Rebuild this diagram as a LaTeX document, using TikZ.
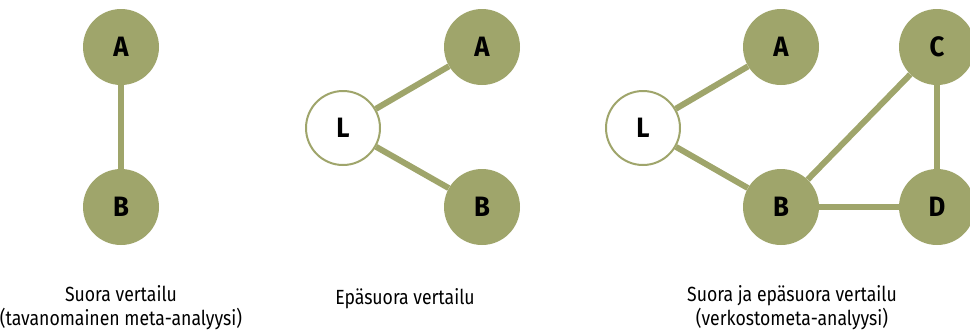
\documentclass[tikz,border=0pt]{standalone}
\usepackage{fontspec}
\setmainfont{Fira Sans}[FakeStretch=0.86]
\newfontfamily\lblfont{Fira Sans}[FakeStretch=0.92]
\definecolor{olive}{HTML}{9FA56B}
\begin{document}
\begin{tikzpicture}[x=1pt,y=-1pt,
  full/.style={circle,fill=olive,minimum size=76pt,inner sep=0pt,font=\lblfont\fontsize{28}{30}\selectfont\bfseries},
  hollow/.style={circle,draw=olive,line width=2pt,fill=white,minimum size=74pt,inner sep=0pt,font=\lblfont\fontsize{28}{30}\selectfont\bfseries},
  edge/.style={draw=olive,line width=6pt},
  captext/.style={align=center,font=\fontsize{20.5}{24}\selectfont}]
\useasboundingbox (0,0) rectangle (970,333);
\begin{scope}
\clip (0,0) rectangle (970,333);
% panel 1
\node[full] (a1) at (121,47) {A};
\node[full] (b1) at (121,207) {B};
\path[edge] (a1) -- (b1);
\node[captext] (t1) at (121,308) {Suora vertailu\\(tavanomainen meta-analyysi)};
% panel 2
\node[hollow] (l2) at (343,128) {L};
\node[full] (a2) at (482,47) {A};
\node[full] (b2) at (482,207) {B};
\path[edge] (l2) -- (a2);
\path[edge] (l2) -- (b2);
\node[captext,anchor=base] (t2) at (405,304) {Epäsuora vertailu};
% panel 3
\node[hollow] (l3) at (643,128) {L};
\node[full] (a3) at (781,47) {A};
\node[full] (c3) at (937,47) {C};
\node[full] (b3) at (781,207) {B};
\node[full] (d3) at (937,207) {D};
\path[edge] (l3) -- (a3);
\path[edge] (l3) -- (b3);
\path[edge] (b3) -- (c3);
\path[edge] (c3) -- (d3);
\path[edge] (b3) -- (d3);
\node[captext] (t3) at (792,308) {Suora ja epäsuora vertailu\\(verkostometa-analyysi)};
\end{scope}
\end{tikzpicture}
\end{document}
